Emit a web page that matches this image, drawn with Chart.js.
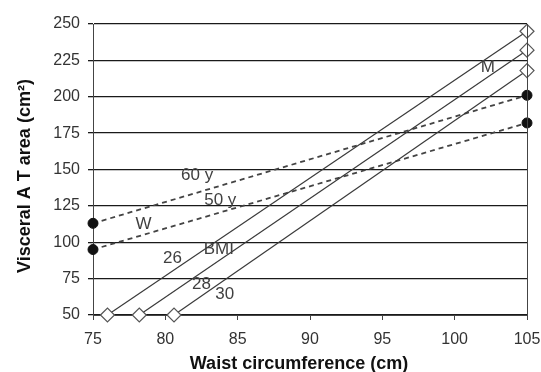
<!DOCTYPE html>
<html>
<head>
<meta charset="utf-8">
<script src="https://cdn.jsdelivr.net/npm/chart.js@4/dist/chart.umd.min.js"></script>
<style>
html,body{margin:0;padding:0;background:#fff;}
#wrap{width:541px;height:372px;position:relative;}
</style>
</head>
<body>
<div id="wrap"><canvas id="c" width="541" height="372"></canvas></div>
<script>
// Data
const xTicks = [75, 80, 85, 90, 95, 100, 105];
const yTicks = [50, 75, 100, 125, 150, 175, 200, 225, 250];

const bmi26Waist = [76.0, 105];
const bmi26Vat   = [50, 245];
const bmi28Waist = [78.2, 105];
const bmi28Vat   = [50, 232];
const bmi30Waist = [80.6, 105];
const bmi30Vat   = [50, 218];

const age60Waist = [75, 105];
const age60Vat   = [113, 201];
const age50Waist = [75, 105];
const age50Vat   = [95, 182];

const xTitle = 'Waist circumference (cm)';
const yTitle = 'Visceral A T area (cm\u00B2)';
const annotationTexts = ['M', 'W', '26', 'BMI', '28', '30', '60 y', '50 y'];

function pts(xs, ys) { return xs.map((x, i) => ({x: x, y: ys[i]})); }

const solidLine = (xs, ys) => ({
  data: pts(xs, ys),
  showLine: true,
  borderColor: '#3a3a3a',
  borderWidth: 1.2,
  pointStyle: 'rectRot',
  pointRadius: 7,
  pointBackgroundColor: '#ffffff',
  pointBorderColor: '#555555',
  pointBorderWidth: 1.2,
  clip: false
});
const dashedLine = (xs, ys) => ({
  data: pts(xs, ys),
  showLine: true,
  borderColor: '#444444',
  borderWidth: 1.8,
  borderDash: [5, 4],
  pointStyle: 'circle',
  pointRadius: 5,
  pointBackgroundColor: '#111111',
  pointBorderColor: '#111111',
  pointBorderWidth: 1,
  clip: false
});

const annotationPos = [
  [102.3, 220], [78.5, 112], [80.5, 89], [83.7, 95], [82.5, 71], [84.1, 64], [82.2, 146], [83.8, 129]
];

const extras = {
  id: 'extras',
  afterDatasetsDraw(chart) {
    const ctx = chart.ctx, a = chart.chartArea;
    const xs = chart.scales.x, ys = chart.scales.y;
    ctx.save();
    // right border
    ctx.strokeStyle = '#444';
    ctx.lineWidth = 1;
    ctx.beginPath();
    ctx.moveTo(Math.round(a.right) + 0.5, a.top);
    ctx.lineTo(Math.round(a.right) + 0.5, a.bottom + 5);
    ctx.stroke();
    // annotations
    ctx.fillStyle = '#404040';
    ctx.font = '17px "Liberation Sans", Arial, sans-serif';
    ctx.textAlign = 'center';
    ctx.textBaseline = 'middle';
    annotationTexts.forEach((t, i) => {
      const p = annotationPos[i];
      ctx.fillText(t, xs.getPixelForValue(p[0]), ys.getPixelForValue(p[1]));
    });
    // axis titles
    ctx.fillStyle = '#111';
    ctx.font = 'bold 18px "Liberation Sans", Arial, sans-serif';
    ctx.fillText(xTitle, 299, 364);
    ctx.translate(25, 176);
    ctx.rotate(-Math.PI / 2);
    ctx.fillText(yTitle, 0, 0);
    ctx.restore();
  }
};

new Chart(document.getElementById('c'), {
  type: 'scatter',
  data: {
    datasets: [
      solidLine(bmi26Waist, bmi26Vat),
      solidLine(bmi28Waist, bmi28Vat),
      solidLine(bmi30Waist, bmi30Vat),
      dashedLine(age60Waist, age60Vat),
      dashedLine(age50Waist, age50Vat)
    ]
  },
  options: {
    responsive: false,
    animation: false,
    layout: {padding: {left: 0, right: 14, top: 24, bottom: 0}},
    plugins: {legend: {display: false}, tooltip: {enabled: false}},
    scales: {
      x: {
        type: 'linear',
        min: 75, max: 105,
        afterBuildTicks: s => { s.ticks = xTicks.map(v => ({value: v})); },
        afterFit: s => { s.height = 57; s.paddingLeft = 0; s.paddingRight = 0; },
        grid: {display: true, drawOnChartArea: false, drawTicks: true, tickLength: 5, color: '#444', lineWidth: 1},
        border: {display: true, color: '#444', width: 1},
        ticks: {color: '#333', font: {family: '"Liberation Sans", Arial, sans-serif', size: 16}, padding: 10, maxRotation: 0}
      },
      y: {
        type: 'linear',
        min: 50, max: 250,
        afterBuildTicks: s => { s.ticks = yTicks.map(v => ({value: v})); },
        afterFit: s => { s.width = 93; s.paddingTop = 0; s.paddingBottom = 0; },
        grid: {display: true, drawOnChartArea: true, drawTicks: true, tickLength: 5, color: '#1a1a1a', lineWidth: 1.3},
        border: {display: true, color: '#444', width: 1},
        ticks: {color: '#333', font: {family: '"Liberation Sans", Arial, sans-serif', size: 16}, padding: 8}
      }
    }
  },
  plugins: [extras]
});
</script>
</body>
</html>
